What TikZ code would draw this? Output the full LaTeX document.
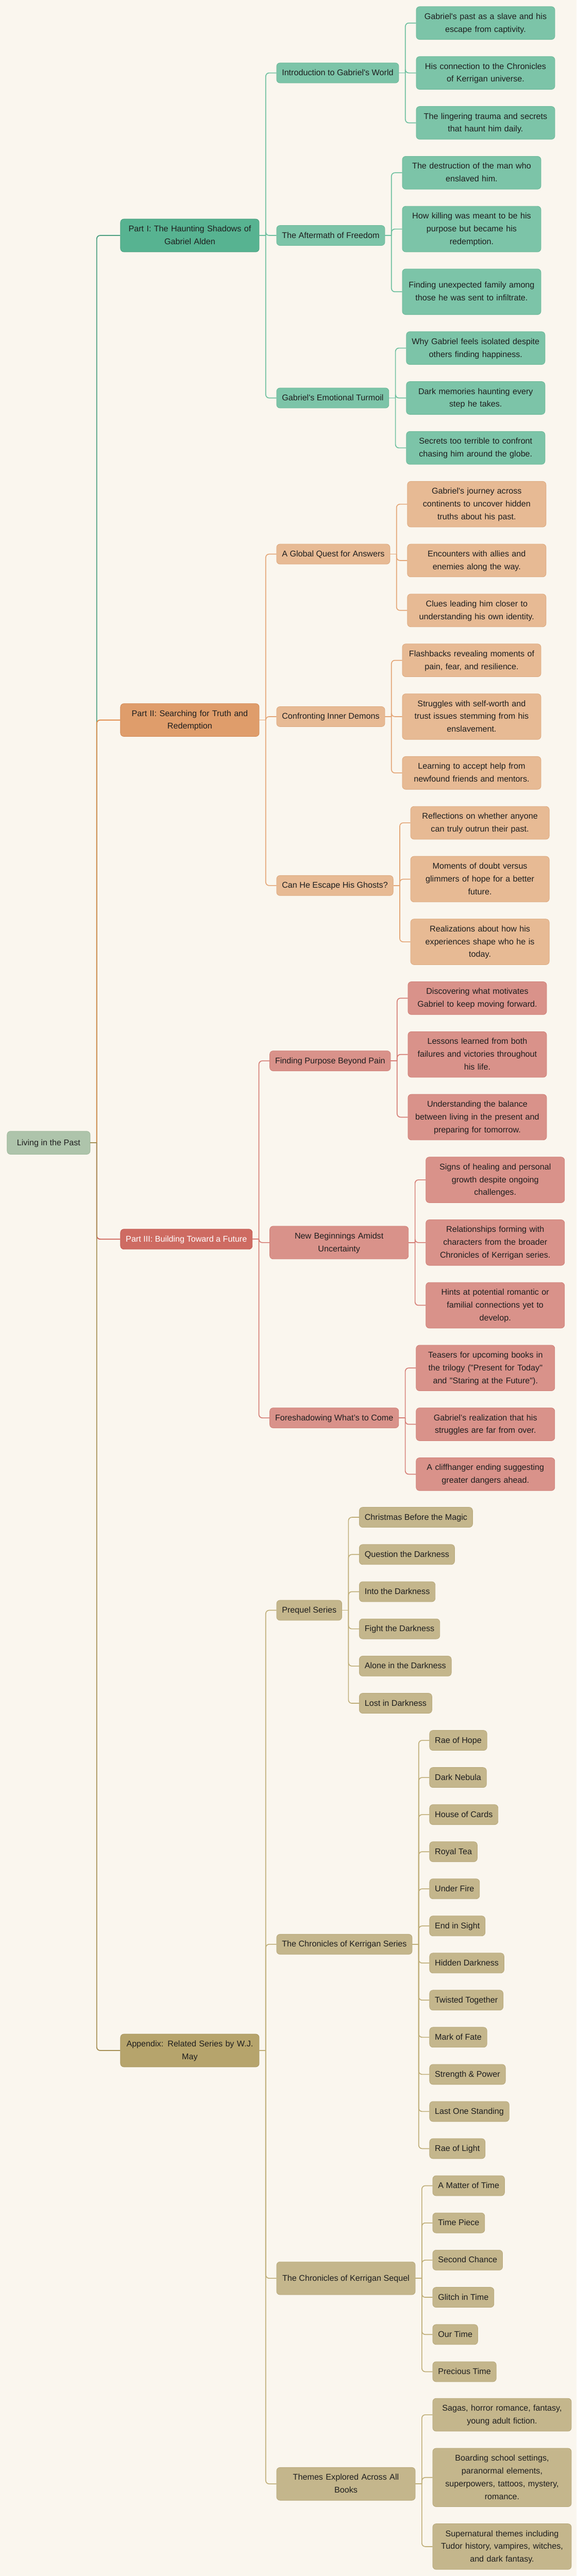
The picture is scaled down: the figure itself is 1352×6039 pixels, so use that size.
\documentclass[tikz,border=0pt]{standalone}
\usepackage{fontspec}
\setmainfont{Liberation Sans}[Ligatures=TeXOff]
\usepackage{tikz}
\usetikzlibrary{calc, positioning}

\definecolor{bgCol}{HTML}{FAF6EE}
\definecolor{inkCol}{HTML}{1E1E1E}
\definecolor{rootFill}{HTML}{AEC4AB}
\definecolor{rootDraw}{HTML}{9CB699}
% green branch
\definecolor{gDark}{HTML}{57B391}
\definecolor{gDarkDraw}{HTML}{4A9F7F}
\definecolor{gLight}{HTML}{7CC4A8}
\definecolor{gLightDraw}{HTML}{6CB898}
\definecolor{gLine}{HTML}{6CBF9E}
\definecolor{gRoot}{HTML}{4C9F80}
% orange branch
\definecolor{oDark}{HTML}{DF9D6B}
\definecolor{oDarkDraw}{HTML}{D08954}
\definecolor{oLight}{HTML}{E7BA94}
\definecolor{oLightDraw}{HTML}{DCA97F}
\definecolor{oLine}{HTML}{E3A677}
\definecolor{oRoot}{HTML}{E08A48}
% red branch
\definecolor{rDark}{HTML}{CE6B62}
\definecolor{rDarkDraw}{HTML}{C25A51}
\definecolor{rLight}{HTML}{D9928A}
\definecolor{rLightDraw}{HTML}{CF8078}
\definecolor{rLine}{HTML}{D57D75}
\definecolor{rRoot}{HTML}{CC5F55}
% olive branch
\definecolor{yDark}{HTML}{B6A46C}
\definecolor{yDarkDraw}{HTML}{A99760}
\definecolor{yLight}{HTML}{C4B68C}
\definecolor{yLightDraw}{HTML}{B8A97C}
\definecolor{yLine}{HTML}{BFAE78}
\definecolor{yRoot}{HTML}{A58F55}

\tikzset{
  box/.style={rectangle, rounded corners=8pt, line width=1pt, anchor=west,
    inner xsep=12.5pt, inner ysep=8.5pt, text=inkCol,
    font=\fontsize{19.5}{30}\selectfont,
    execute at begin node=\strut, execute at end node=\strut},
  wide/.style={text width=300pt, align=center},
  rootBox/.style={box, fill=rootFill, draw=rootDraw, inner xsep=23pt, inner ysep=12pt, anchor=center},
  gPart/.style={box, wide, fill=gDark, draw=gDarkDraw},
  oPart/.style={box, wide, fill=oDark, draw=oDarkDraw},
  rPart/.style={box, fill=rDark, draw=rDarkDraw, text=white},
  yPart/.style={box, wide, fill=yDark, draw=yDarkDraw},
  gMid/.style={box, fill=gLight, draw=gLightDraw, xshift=40pt},
  oMid/.style={box, fill=oLight, draw=oLightDraw, xshift=40pt},
  rMid/.style={box, fill=rLight, draw=rLightDraw, xshift=40pt},
  yMid/.style={box, fill=yLight, draw=yLightDraw, xshift=40pt},
  gLink/.style={draw=gLine, line width=2pt, rounded corners=8pt},
  oLink/.style={draw=oLine, line width=2pt, rounded corners=8pt},
  rLink/.style={draw=rLine, line width=2pt, rounded corners=8pt},
  yLink/.style={draw=yLine, line width=2pt, rounded corners=8pt},
  gRootLink/.style={draw=gRoot, line width=2.2pt, rounded corners=8pt},
  oRootLink/.style={draw=oRoot, line width=2.2pt, rounded corners=8pt},
  rRootLink/.style={draw=rRoot, line width=2.2pt, rounded corners=8pt},
  yRootLink/.style={draw=yRoot, line width=2.2pt, rounded corners=8pt}
}

\begin{document}
\begin{tikzpicture}[x=1pt, y=-1pt]

\fill[bgCol] (0,0) rectangle (1352,6039);
\useasboundingbox (0,0) rectangle (1352,6039);

% root and the four parts
\node[rootBox] (nRoot) at (114,2679) {Living in the Past};
\node[gPart] (nPartI) at (282,552) {Part I: The Haunting Shadows of\\Gabriel Alden};
\node[oPart] (nPartII) at (282,1688) {Part II: Searching for Truth and\\Redemption};
\node[rPart] (nPartIII) at (282,2905) {Part III: Building Toward a Future};
\node[yPart] (nAppendix) at (282,4807) {Appendix: Related Series by W.J.\\May};

% part I
\node[gMid] (nIntro) at (nPartI.east |- 0,171) {Introduction to Gabriel's World};
\node[gMid] (nAfter) at (nPartI.east |- 0,552) {The Aftermath of Freedom};
\node[gMid] (nTurmoil) at (nPartI.east |- 0,933) {Gabriel's Emotional Turmoil};

\node[gMid, wide] (nIntroA) at (nIntro.east |- 0,54) {Gabriel's past as a slave and his\\escape from captivity.};
\node[gMid, wide] (nIntroB) at (nIntro.east |- 0,171) {His connection to the Chronicles\\of Kerrigan universe.};
\node[gMid, wide] (nIntroC) at (nIntro.east |- 0,288) {The lingering trauma and secrets\\that haunt him daily.};
\node[gMid, wide] (nAfterA) at (nAfter.east |- 0,405) {The destruction of the man who\\enslaved him.};
\node[gMid, wide] (nAfterB) at (nAfter.east |- 0,537) {How killing was meant to be his\\purpose but became his\\redemption.};
\node[gMid, wide, minimum height=107pt] (nAfterC) at (nAfter.east |- 0,684) {Finding unexpected family among\\those he was sent to infiltrate.};
\node[gMid, wide] (nTurmoilA) at (nTurmoil.east |- 0,816) {Why Gabriel feels isolated despite\\others finding happiness.};
\node[gMid, wide] (nTurmoilB) at (nTurmoil.east |- 0,933) {Dark memories haunting every\\step he takes.};
\node[gMid, wide] (nTurmoilC) at (nTurmoil.east |- 0,1050) {Secrets too terrible to confront\\chasing him around the globe.};

% part II
\node[oMid] (nQuest) at (nPartII.east |- 0,1299) {A Global Quest for Answers};
\node[oMid] (nDemons) at (nPartII.east |- 0,1680) {Confronting Inner Demons};
\node[oMid] (nGhosts) at (nPartII.east |- 0,2076) {Can He Escape His Ghosts?};

\node[oMid, wide] (nQuestA) at (nQuest.east |- 0,1182) {Gabriel's journey across\\continents to uncover hidden\\truths about his past.};
\node[oMid, wide] (nQuestB) at (nQuest.east |- 0,1314) {Encounters with allies and\\enemies along the way.};
\node[oMid, wide] (nQuestC) at (nQuest.east |- 0,1431) {Clues leading him closer to\\understanding his own identity.};
\node[oMid, wide] (nDemonsA) at (nDemons.east |- 0,1548) {Flashbacks revealing moments of\\pain, fear, and resilience.};
\node[oMid, wide] (nDemonsB) at (nDemons.east |- 0,1680) {Struggles with self-worth and\\trust issues stemming from his\\enslavement.};
\node[oMid, wide] (nDemonsC) at (nDemons.east |- 0,1812) {Learning to accept help from\\newfound friends and mentors.};
\node[oMid, wide] (nGhostsA) at (nGhosts.east |- 0,1929) {Reflections on whether anyone\\can truly outrun their past.};
\node[oMid, wide] (nGhostsB) at (nGhosts.east |- 0,2061) {Moments of doubt versus\\glimmers of hope for a better\\future.};
\node[oMid, wide] (nGhostsC) at (nGhosts.east |- 0,2208) {Realizations about how his\\experiences shape who he is\\today.};

% part III
\node[rMid] (nPurpose) at (nPartIII.east |- 0,2487) {Finding Purpose Beyond Pain};
\node[rMid, wide] (nBegin) at (nPartIII.east |- 0,2913) {New Beginnings Amidst\\Uncertainty};
\node[rMid] (nForesh) at (nPartIII.east |- 0,3324) {Foreshadowing What’s to Come};

\node[rMid, wide] (nPurposeA) at (nPurpose.east |- 0,2340) {Discovering what motivates\\Gabriel to keep moving forward.};
\node[rMid, wide] (nPurposeB) at (nPurpose.east |- 0,2472) {Lessons learned from both\\failures and victories throughout\\his life.};
\node[rMid, wide] (nPurposeC) at (nPurpose.east |- 0,2619) {Understanding the balance\\between living in the present and\\preparing for tomorrow.};
\node[rMid, wide] (nBeginA) at (nBegin.east |- 0,2766) {Signs of healing and personal\\growth despite ongoing\\challenges.};
\node[rMid, wide] (nBeginB) at (nBegin.east |- 0,2913) {Relationships forming with\\characters from the broader\\Chronicles of Kerrigan series.};
\node[rMid, wide] (nBeginC) at (nBegin.east |- 0,3060) {Hints at potential romantic or\\familial connections yet to\\develop.};
\node[rMid, wide] (nForeshA) at (nForesh.east |- 0,3207) {Teasers for upcoming books in\\the trilogy ("Present for Today"\\and "Staring at the Future").};
\node[rMid, wide] (nForeshB) at (nForesh.east |- 0,3339) {Gabriel’s realization that his\\struggles are far from over.};
\node[rMid, wide] (nForeshC) at (nForesh.east |- 0,3456) {A cliffhanger ending suggesting\\greater dangers ahead.};

% appendix
\node[yMid] (nPrequel) at (nAppendix.east |- 0,3775) {Prequel Series};
\node[yMid] (nSeries) at (nAppendix.east |- 0,4558) {The Chronicles of Kerrigan Series};
\node[yMid, inner xsep=9pt, minimum width=325pt, minimum height=77pt] (nSequel) at (nAppendix.east |- 0,5341) {The Chronicles of Kerrigan Sequel};
\node[yMid, wide] (nThemes) at (nAppendix.east |- 0,5823) {Themes Explored Across All\\Books};

\node[yMid, wide] (nThemesA) at (nThemes.east |- 0,5661) {Sagas, horror romance, fantasy,\\young adult fiction.};
\node[yMid, wide] (nThemesB) at (nThemes.east |- 0,5808) {Boarding school settings,\\paranormal elements,\\superpowers, tattoos, mystery,\\romance.};
\node[yMid, wide] (nThemesC) at (nThemes.east |- 0,5970) {Supernatural themes including\\Tudor history, vampires, witches,\\and dark fantasy.};

\foreach \t [count=\i] in {Christmas Before the Magic, Question the Darkness, Into the Darkness,
    Fight the Darkness, Alone in the Darkness, Lost in Darkness}
{
    \pgfmathsetmacro{\yy}{3557+87.2*(\i-1)}
    \node[yMid] (nPreq\i) at (nPrequel.east |- 0,\yy) {\t};
    \draw[yLink] (nPrequel.east) -- ++(15pt,0);
    \draw[yLink] ([xshift=15pt]nPrequel.east) |- (nPreq\i.west);
};

\foreach \t [count=\i] in {Rae of Hope, Dark Nebula, House of Cards, Royal Tea, Under Fire,
    End in Sight, Hidden Darkness, Twisted Together, Mark of Fate, Strength \& Power,
    Last One Standing, Rae of Light}
{
    \pgfmathsetmacro{\yy}{4080+87*(\i-1)}
    \node[yMid] (nSer\i) at (nSeries.east |- 0,\yy) {\t};
    \draw[yLink] (nSeries.east) -- ++(15pt,0);
    \draw[yLink] ([xshift=15pt]nSeries.east) |- (nSer\i.west);
};

\foreach \t [count=\i] in {A Matter of Time, Time Piece, Second Chance, Glitch in Time,
    Our Time, Precious Time}
{
    \pgfmathsetmacro{\yy}{5124+87.2*(\i-1)}
    \node[yMid] (nSeq\i) at (nSequel.east |- 0,\yy) {\t};
    \draw[yLink] (nSequel.east) -- ++(15pt,0);
    \draw[yLink] ([xshift=15pt]nSequel.east) |- (nSeq\i.west);
};

% links
\foreach \p/\c in {nPartI/nIntro, nPartI/nAfter, nPartI/nTurmoil,
    nIntro/nIntroA, nIntro/nIntroB, nIntro/nIntroC,
    nAfter/nAfterA, nAfter/nAfterB, nAfter/nAfterC,
    nTurmoil/nTurmoilA, nTurmoil/nTurmoilB, nTurmoil/nTurmoilC}
{
    \draw[gLink] (\p.east) -- ++(15pt,0);
    \draw[gLink] ([xshift=15pt]\p.east) |- (\c.west);
};

\foreach \p/\c in {nPartII/nQuest, nPartII/nDemons, nPartII/nGhosts,
    nQuest/nQuestA, nQuest/nQuestB, nQuest/nQuestC,
    nDemons/nDemonsA, nDemons/nDemonsB, nDemons/nDemonsC,
    nGhosts/nGhostsA, nGhosts/nGhostsB, nGhosts/nGhostsC}
{
    \draw[oLink] (\p.east) -- ++(15pt,0);
    \draw[oLink] ([xshift=15pt]\p.east) |- (\c.west);
};

\foreach \p/\c in {nPartIII/nPurpose, nPartIII/nBegin, nPartIII/nForesh,
    nPurpose/nPurposeA, nPurpose/nPurposeB, nPurpose/nPurposeC,
    nBegin/nBeginA, nBegin/nBeginB, nBegin/nBeginC,
    nForesh/nForeshA, nForesh/nForeshB, nForesh/nForeshC}
{
    \draw[rLink] (\p.east) -- ++(15pt,0);
    \draw[rLink] ([xshift=15pt]\p.east) |- (\c.west);
};

\foreach \p/\c in {nAppendix/nPrequel, nAppendix/nSeries, nAppendix/nSequel, nAppendix/nThemes,
    nThemes/nThemesA, nThemes/nThemesB, nThemes/nThemesC}
{
    \draw[yLink] (\p.east) -- ++(15pt,0);
    \draw[yLink] ([xshift=15pt]\p.east) |- (\c.west);
};

\foreach \c/\k in {nPartI/gRootLink, nPartII/oRootLink, nPartIII/rRootLink, nAppendix/yRootLink}
{
    \draw[\k] (nRoot.east) -- ++(15pt,0);
    \draw[\k] ([xshift=15pt]nRoot.east) |- (\c.west);
};

\end{tikzpicture}
\end{document}
